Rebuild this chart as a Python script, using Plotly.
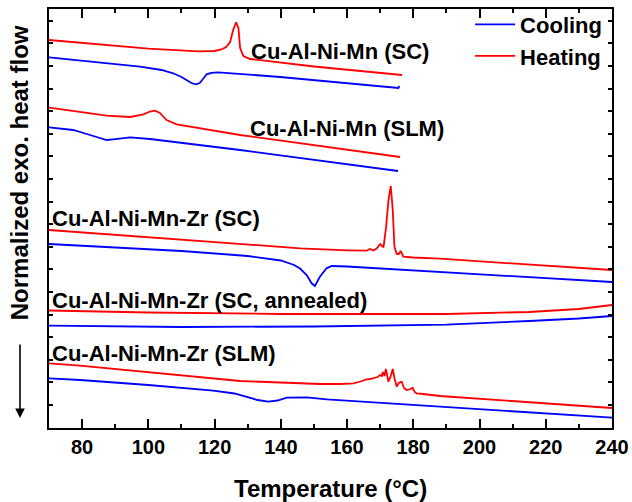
import plotly.graph_objects as go

# ---------------- data (temperature in °C, normalized heat flow in arbitrary units, offset curves) -------------
sc_heat_T = [70, 100, 115, 120, 122, 123.5, 124.7, 125.6, 126.5, 127.2, 127.7, 128.7, 130.7, 150, 176.6]
sc_heat_v = [40, 48.6, 51.3, 51, 49.5, 47, 42, 30, 22.3, 28, 48, 56, 59, 66.5, 75]

sc_cool_T = [70, 97.5, 104, 107.5, 110, 111.6, 113, 114.4, 115.5, 116.5, 117.6, 119, 121, 139.8, 175.5, 175.8]
sc_cool_v = [57.3, 66.7, 70, 73.3, 77, 80, 83, 84.3, 83, 79, 74.3, 72.8, 72.3, 77, 88, 86]

slm_heat_T = [70, 87.4, 94.5, 98.5, 100.5, 102, 103.5, 105.5, 108.6, 115.6, 127.7, 176]
slm_heat_v = [107.7, 115.7, 117, 114.3, 111.5, 110.7, 113, 120, 124.3, 128.3, 135, 157]

slm_cool_T = [70, 77.3, 82.4, 87.4, 89.4, 92, 94.5, 100.5, 127.7, 175.4]
slm_cool_v = [127.3, 130, 135, 140, 139.3, 138, 137.3, 139, 150, 171]

zr_sc_heat_T = [70, 110, 145.8, 160, 165.9, 166.9, 168, 169, 170, 171, 171.8, 172.5, 173.2, 173.8,
                174.3, 175, 175.6, 176.2, 177, 180, 188.1, 240]
zr_sc_heat_v = [230, 239.5, 248.3, 250.3, 250.7, 249, 250.5, 248.3, 244, 247.3, 226.7, 200, 186, 210,
                246.7, 254, 254, 251, 256.7, 257.5, 258.7, 270]

zr_sc_cool_T = [70, 110, 130, 140, 144, 145.8, 147.8, 149.3, 150.3, 151.8, 153.8, 155.4, 160, 188.1, 240]
zr_sc_cool_v = [244, 251, 256, 260.5, 265, 268.5, 275, 283.3, 286, 276.7, 268.3, 266, 266.5, 271.7, 282]

ann_heat_T = [70, 100, 140, 190, 215, 230, 240]
ann_heat_v = [310.5, 312.5, 314, 314, 312, 309, 305]

ann_cool_T = [70, 110, 150, 190, 215, 230, 240]
ann_cool_v = [325.7, 327, 326.5, 324.7, 321, 318.5, 316]

zr_slm_heat_T = [70, 79.4, 127.7, 151.8, 158, 161.9, 164, 165.9, 167, 168.4, 169.2, 170, 170.5, 170.8,
                 171.3, 171.7, 172.1, 172.5, 173.2, 173.8, 174.3, 175, 175.6, 176.5, 177.2, 178, 179.2,
                 179.8, 180.4, 181, 183, 188.1, 240]
zr_slm_heat_v = [363.3, 365.7, 381, 384, 384, 383.3, 381.5, 379.3, 379, 377.3, 377, 375, 376, 372,
                 376, 369, 375, 381.7, 376, 369, 378, 386.7, 383, 381.7, 388, 390, 389,
                 387.7, 392, 393.3, 394, 396, 408]

zr_slm_cool_T = [70, 79.4, 100, 119.6, 126, 129.7, 133, 136.2, 139, 141.8, 147.8, 153.9, 188.1, 240]
zr_slm_cool_v = [378.3, 380, 385, 390.7, 393.5, 396.7, 400, 401.7, 400.5, 397.7, 397.3, 399.3, 406.7, 417.7]

labels = ["Cu-Al-Ni-Mn (SC)", "Cu-Al-Ni-Mn (SLM)", "Cu-Al-Ni-Mn-Zr (SC)",
          "Cu-Al-Ni-Mn-Zr (SC, annealed)", "Cu-Al-Ni-Mn-Zr (SLM)"]
label_T = [130.4, 130.1, 70.3, 70.3, 70.3]
label_v = [51, 128, 218, 300, 353]

x_ticks = [80, 100, 120, 140, 160, 180, 200, 220, 240]

BLUE = "#0000FF"
RED = "#FF0000"
FONT = "Liberation Sans, Arial, sans-serif"

fig = go.Figure()

cool_sets = [(sc_cool_T, sc_cool_v), (slm_cool_T, slm_cool_v), (zr_sc_cool_T, zr_sc_cool_v),
             (ann_cool_T, ann_cool_v), (zr_slm_cool_T, zr_slm_cool_v)]
heat_sets = [(sc_heat_T, sc_heat_v), (slm_heat_T, slm_heat_v), (zr_sc_heat_T, zr_sc_heat_v),
             (ann_heat_T, ann_heat_v), (zr_slm_heat_T, zr_slm_heat_v)]

for i, (t, v) in enumerate(cool_sets):
    fig.add_trace(go.Scatter(x=t, y=v, mode="lines", line=dict(color=BLUE, width=1.8),
                             name="Cooling", legendgroup="c", showlegend=(i == 0)))
for i, (t, v) in enumerate(heat_sets):
    fig.add_trace(go.Scatter(x=t, y=v, mode="lines", line=dict(color=RED, width=1.8),
                             name="Heating", legendgroup="h", showlegend=(i == 0)))

for txt, t, v in zip(labels, label_T, label_v):
    fig.add_annotation(x=t, y=v, xref="x", yref="y", text=txt, showarrow=False,
                       xanchor="left", yanchor="middle",
                       font=dict(family=FONT, size=22, color="black", weight="bold"))

# y-axis title and arrow
fig.add_annotation(x=-0.052, y=(428 - 172.5) / 419, xref="paper", yref="paper",
                   text="Normalized exo. heat flow", textangle=-90, showarrow=False,
                   xanchor="center", yanchor="middle",
                   font=dict(family=FONT, size=24, color="black", weight="bold"))
fig.add_annotation(x=-0.0515, y=(428 - 418) / 419, xref="paper", yref="paper",
                   ax=0, ay=-75, text="", showarrow=True, arrowhead=2, arrowsize=1.2,
                   arrowwidth=1.6, arrowcolor="black")
# x-axis title
fig.add_annotation(x=0.5, y=(428 - 488) / 419, xref="paper", yref="paper",
                   text="Temperature (°C)", showarrow=False, xanchor="center", yanchor="middle",
                   font=dict(family=FONT, size=24, color="black", weight="bold"))

fig.update_layout(
    width=632, height=502,
    margin=dict(l=49, r=20, t=9, b=74, autoexpand=False),
    paper_bgcolor="white", plot_bgcolor="white",
    font=dict(family=FONT, color="black"),
    legend=dict(x=0.748, y=1.013, xanchor="left", yanchor="top",
                bgcolor="rgba(0,0,0,0)", itemwidth=40,
                font=dict(family=FONT, size=22, color="black", weight="bold"),
                tracegroupgap=0),
    xaxis=dict(range=[70, 240], tickmode="array", tickvals=x_ticks, automargin=False,
               showline=True, linecolor="black", linewidth=2, mirror="ticks",
               ticks="inside", ticklen=9, tickwidth=1.5, tickcolor="black",
               tickfont=dict(family=FONT, size=20, color="black", weight="bold"),
               showgrid=False, zeroline=False,
               minor=dict(ticks="inside", ticklen=4, tickwidth=1.5, dtick=10, tick0=0,
                          tickcolor="black", showgrid=False)),
    yaxis=dict(range=[428, 9], tickmode="linear", tick0=427.6, dtick=22.6,
               showticklabels=False, automargin=False,
               showline=True, linecolor="black", linewidth=2, mirror="ticks",
               ticks="inside", ticklen=4, tickwidth=1.5, tickcolor="black",
               showgrid=False, zeroline=False),
    showlegend=True,
)

fig.write_html("out.html")
